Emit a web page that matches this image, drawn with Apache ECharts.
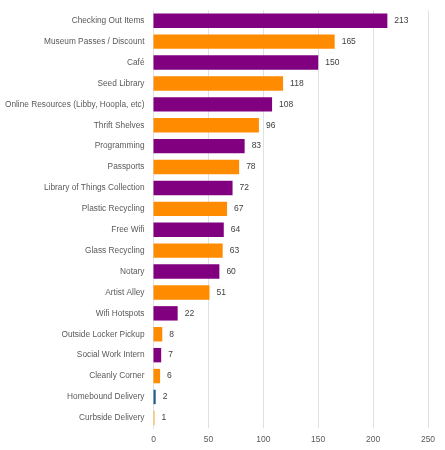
<!DOCTYPE html>
<html><head><meta charset="utf-8">
<script src="https://cdn.jsdelivr.net/npm/echarts@6/dist/echarts.min.js"></script>
<style>html,body{margin:0;padding:0;background:#fff}#c{width:445px;height:450px}</style>
</head><body><div id="c"></div>
<script>
var categories = ["Checking Out Items","Museum Passes / Discount","Café","Seed Library","Online Resources (Libby, Hoopla, etc)","Thrift Shelves","Programming","Passports","Library of Things Collection","Plastic Recycling","Free Wifi","Glass Recycling","Notary","Artist Alley","Wifi Hotspots","Outside Locker Pickup","Social Work Intern","Cleanly Corner","Homebound Delivery","Curbside Delivery"];
var values = [213,165,150,118,108,96,83,78,72,67,64,63,60,51,22,8,7,6,2,1];
var barColors = ["#800080","#FF8C00","#800080","#FF8C00","#800080","#FF8C00","#800080","#FF8C00","#800080","#FF8C00","#800080","#FF8C00","#800080","#FF8C00","#800080","#FF8C00","#800080","#FF8C00","#1F5F8B","#FFB347"];
var xTicks = [0,50,100,150,200,250];

var chart = echarts.init(document.getElementById('c'));
chart.setOption({
  animation:false,
  grid:{left:153.5,right:17,top:10.3,bottom:21.7,containLabel:false,outerBoundsMode:'none'},
  xAxis:{type:'value',min:xTicks[0],max:xTicks[xTicks.length-1],interval:50,
    axisLine:{show:false},axisTick:{show:false},
    axisLabel:{color:'#595959',fontSize:8.5,fontFamily:'Liberation Sans',margin:7},
    splitLine:{lineStyle:{color:'#e0e0e0',width:1}}},
  yAxis:{type:'category',data:categories,inverse:true,
    axisLine:{show:true,lineStyle:{color:'#e0e0e0'}},axisTick:{show:false},
    axisLabel:{color:'#595959',fontSize:8.3,fontFamily:'Liberation Sans',margin:9}},
  series:[{type:'bar',barWidth:'69%',
    data:values.map(function(v,i){return {value:v,itemStyle:{color:barColors[i]}};}),
    label:{show:true,position:'right',distance:7,color:'#404040',fontSize:8.5,fontFamily:'Liberation Sans'}}]
});
</script></body></html>
